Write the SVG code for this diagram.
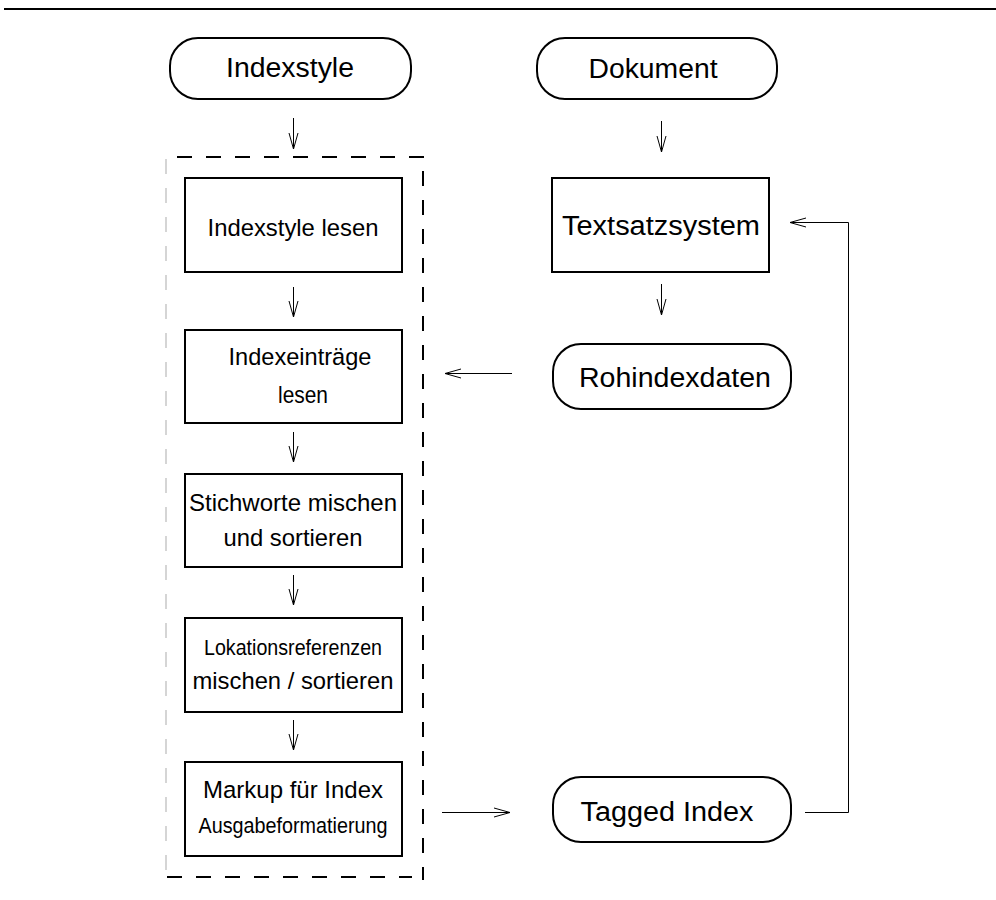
<svg xmlns="http://www.w3.org/2000/svg" width="996" height="900" viewBox="0 0 996 900">
  <style>
    .box { fill: none; stroke: #000; stroke-width: 2; }
    .lbl { font-family: "Liberation Sans", Arial, sans-serif; fill: #000; text-anchor: middle; }
    .big { font-size: 27px; }
    .mid { font-size: 24.5px; }
    .sml { font-size: 22px; }
    .conn { fill: none; stroke: #000; stroke-width: 1; }
    .dash { fill: none; stroke: #000; stroke-width: 2; stroke-dasharray: 15 14; }
    .faint { fill: none; stroke: #c8c8c8; stroke-width: 1.5; stroke-dasharray: 15 14; }
  </style>
  <defs>
    <marker id="open" markerUnits="userSpaceOnUse" markerWidth="20" markerHeight="12" refX="16" refY="6" orient="auto">
      <path d="M0,1.5 L16,6 L0,10.5" fill="none" stroke="#000" stroke-width="1"/>
    </marker>
  </defs>

  <rect width="996" height="900" fill="#fff"/>

  <!-- rule at the top of the page -->
  <line x1="4" y1="9" x2="996" y2="9" stroke="#000" stroke-width="2"/>

  <!-- dashed frame around the processing steps -->
  <g id="frame">
    <line class="dash" x1="177" y1="157" x2="424" y2="157"/>
    <line class="dash" x1="423" y1="171" x2="423" y2="880"/>
    <line class="dash" x1="167" y1="877" x2="412" y2="877"/>
    <line class="faint" x1="166" y1="159" x2="166" y2="872"/>
  </g>

  <g id="indexstyle">
    <rect class="box" x="170" y="38" width="241" height="61" rx="28"/>
    <text class="lbl big" x="290" y="77" textLength="128" lengthAdjust="spacingAndGlyphs">Indexstyle</text>
  </g>

  <g id="dokument">
    <rect class="box" x="537" y="38" width="240" height="61" rx="28"/>
    <text class="lbl big" x="653" y="78" textLength="129" lengthAdjust="spacingAndGlyphs">Dokument</text>
  </g>

  <g id="indexstyle-lesen">
    <rect class="box" x="185" y="178" width="217" height="94"/>
    <text class="lbl mid" x="293" y="236" textLength="171" lengthAdjust="spacingAndGlyphs">Indexstyle lesen</text>
  </g>

  <g id="indexeintraege-lesen">
    <rect class="box" x="185" y="330" width="217" height="93"/>
    <text class="lbl mid" x="300" y="365" textLength="143" lengthAdjust="spacingAndGlyphs">Indexeinträge</text>
    <text class="lbl mid" x="303" y="403" textLength="50" lengthAdjust="spacingAndGlyphs">lesen</text>
  </g>

  <g id="stichworte">
    <rect class="box" x="185" y="474" width="217" height="93"/>
    <text class="lbl mid" x="293" y="511" textLength="208" lengthAdjust="spacingAndGlyphs">Stichworte mischen</text>
    <text class="lbl mid" x="293" y="546" textLength="139" lengthAdjust="spacingAndGlyphs">und sortieren</text>
  </g>

  <g id="lokationsreferenzen">
    <rect class="box" x="185" y="618" width="217" height="94"/>
    <text class="lbl sml" x="293" y="655" textLength="178" lengthAdjust="spacingAndGlyphs">Lokationsreferenzen</text>
    <text class="lbl mid" x="293" y="689" textLength="201" lengthAdjust="spacingAndGlyphs">mischen / sortieren</text>
  </g>

  <g id="markup">
    <rect class="box" x="185" y="762" width="217" height="94"/>
    <text class="lbl mid" x="293" y="798" textLength="180" lengthAdjust="spacingAndGlyphs">Markup für Index</text>
    <text class="lbl sml" x="293" y="833" textLength="189" lengthAdjust="spacingAndGlyphs">Ausgabeformatierung</text>
  </g>

  <g id="textsatzsystem">
    <rect class="box" x="552" y="178" width="217" height="94"/>
    <text class="lbl big" x="661" y="235" textLength="198" lengthAdjust="spacingAndGlyphs">Textsatzsystem</text>
  </g>

  <g id="rohindexdaten">
    <rect class="box" x="553" y="344" width="238" height="65" rx="28"/>
    <text class="lbl big" x="675" y="387" textLength="192" lengthAdjust="spacingAndGlyphs">Rohindexdaten</text>
  </g>

  <g id="tagged-index">
    <rect class="box" x="553" y="777" width="238" height="65" rx="28"/>
    <text class="lbl big" x="667" y="821" textLength="173" lengthAdjust="spacingAndGlyphs">Tagged Index</text>
  </g>

  <g id="connectors">
    <line class="conn" x1="293.5" y1="118" x2="293.5" y2="149" marker-end="url(#open)"/>
    <line class="conn" x1="293.5" y1="287" x2="293.5" y2="317" marker-end="url(#open)"/>
    <line class="conn" x1="293.5" y1="432" x2="293.5" y2="462" marker-end="url(#open)"/>
    <line class="conn" x1="293.5" y1="575" x2="293.5" y2="605" marker-end="url(#open)"/>
    <line class="conn" x1="293.5" y1="720" x2="293.5" y2="750" marker-end="url(#open)"/>
    <line class="conn" x1="661.5" y1="121" x2="661.5" y2="152" marker-end="url(#open)"/>
    <line class="conn" x1="661.5" y1="284" x2="661.5" y2="315" marker-end="url(#open)"/>
    <line class="conn" x1="512" y1="373.5" x2="445" y2="373.5" marker-end="url(#open)"/>
    <line class="conn" x1="442" y1="812.5" x2="510" y2="812.5" marker-end="url(#open)"/>
    <polyline class="conn" points="805,812.5 848.5,812.5 848.5,222.5 790,222.5" marker-end="url(#open)"/>
  </g>
</svg>
